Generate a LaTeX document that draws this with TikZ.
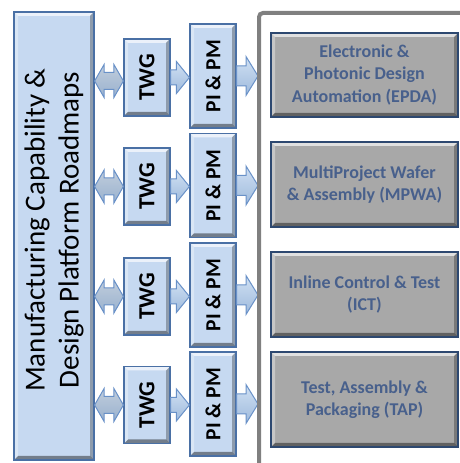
\documentclass[tikz,border=0pt]{standalone}
\usepackage{fontspec}
\setmainfont{Carlito}
\usetikzlibrary{calc}

\definecolor{boxblue}{RGB}{198,217,241}
\definecolor{edgeblue}{RGB}{74,112,165}
\definecolor{boxgray}{RGB}{168,168,168}
\definecolor{edgenavy}{RGB}{45,72,112}
\definecolor{labelblue}{RGB}{72,96,140}
\definecolor{arrowedge}{RGB}{105,145,200}
\definecolor{arrowtop}{RGB}{208,224,243}
\definecolor{arrowbot}{RGB}{158,186,220}
\definecolor{framegray}{RGB}{128,128,128}

% block arrow pointing right: style, from, to, shaft half-width, head half-width, head length
\newcommand\blockarrow[6]{%
  \path[#1] let \p1=(#2), \p2=(#3) in
    (\x1,\y1+#4) -- (\x2-#6,\y1+#4) -- (\x2-#6,\y1+#5) -- (\x2,\y1)
    -- (\x2-#6,\y1-#5) -- (\x2-#6,\y1-#4) -- (\x1,\y1-#4) -- cycle;}
% double-headed block arrow: style, from, to, shaft half-width, head half-width, head length
\newcommand\dblarrow[6]{%
  \path[#1] let \p1=(#2), \p2=(#3) in
    (\x1,\y1) -- (\x1+#6,\y1+#5) -- (\x1+#6,\y1+#4) -- (\x2-#6,\y1+#4)
    -- (\x2-#6,\y1+#5) -- (\x2,\y1) -- (\x2-#6,\y1-#5) -- (\x2-#6,\y1-#4)
    -- (\x1+#6,\y1-#4) -- (\x1+#6,\y1-#5) -- cycle;}

\tikzset{
  x=1pt, y=1pt,
  bevel/.style={path picture={
    \coordinate (bvSW) at (path picture bounding box.south west);
    \coordinate (bvNE) at (path picture bounding box.north east);
    \coordinate (bvNW) at (bvSW |- bvNE);
    \coordinate (bvSE) at (bvNE |- bvSW);
    \fill[white,opacity=.65] (bvNW) -- (bvNE) -- ([shift={(-#1,-#1)}]bvNE) -- ([shift={(#1,-#1)}]bvNW) -- cycle;
    \fill[white,opacity=.35] (bvNW) -- (bvSW) -- ([shift={(#1,#1)}]bvSW) -- ([shift={(#1,-#1)}]bvNW) -- cycle;
    \fill[black,opacity=.28] (bvNE) -- (bvSE) -- ([shift={(-#1,#1)}]bvSE) -- ([shift={(-#1,-#1)}]bvNE) -- cycle;
    \fill[black,opacity=.42] (bvSW) -- (bvSE) -- ([shift={(-#1,#1)}]bvSE) -- ([shift={(#1,#1)}]bvSW) -- cycle;
  }},
  bluebox/.style={rectangle, fill=boxblue, draw=edgeblue, line width=1.2pt, bevel=4,
    inner sep=0pt, text=black},
  twgbox/.style={bluebox, minimum width=46, minimum height=77,
    font=\bfseries\fontsize{23}{26}\selectfont},
  pibox/.style={bluebox, minimum width=46, minimum height=104,
    font=\bfseries\fontsize{21.5}{26}\selectfont},
  areabox/.style={rectangle, fill=boxgray, draw=edgenavy, line width=1.8pt, bevel=4,
    minimum width=187, inner sep=0pt, align=center, text=labelblue,
    font=\bfseries\fontsize{18}{22.5}\selectfont},
  blkarrow/.style={draw=arrowedge, line width=1pt, line join=miter,
    top color=arrowtop, bottom color=arrowbot},
  dblshade/.style={draw=arrowedge, line width=1pt, line join=miter,
    top color=arrowtop!80!gray, bottom color=arrowbot!85!gray},
  framebar/.style={draw=framegray, line width=4pt, rounded corners=4pt},
}

\begin{document}
\begin{tikzpicture}
\useasboundingbox (0,0) rectangle (459,463);
\fill[white] (0,0) rectangle (459,463);

% roadmap column
\node[bluebox, minimum width=80, minimum height=448] (road) at (54,227) {};
\node[rotate=90, align=center, font=\fontsize{29}{34}\selectfont] (roadtxt)
  at ($(road.center)+(0,6)$) {Manufacturing Capability \&\\Design Platform Roadmaps};

% technical working groups
\node[twgbox] (twg1) at (147,385.5) {\rotatebox{90}{TWG}};
\node[twgbox] (twg2) at (147,276.5) {\rotatebox{90}{TWG}};
\node[twgbox] (twg3) at (147,166.5) {\rotatebox{90}{TWG}};
\node[twgbox] (twg4) at (147,58)    {\rotatebox{90}{TWG}};

% PI & PM
\node[pibox] (pi1) at (213,387)   {\rotatebox{90}{PI \& PM}};
\node[pibox] (pi2) at (213,277.5) {\rotatebox{90}{PI \& PM}};
\node[pibox] (pi3) at (213,168)   {\rotatebox{90}{PI \& PM}};
\node[pibox] (pi4) at (213,59)    {\rotatebox{90}{PI \& PM}};

% focus areas
\node[areabox, minimum height=84] (epda) at (364.5,388)   {Electronic \&\\Photonic Design\\Automation (EPDA)};
\node[areabox, minimum height=85] (mpwa) at (364.5,278.5) {MultiProject Wafer\\\& Assembly (MPWA)};
\node[areabox, minimum height=85] (ict)  at (364.5,168.5) {Inline Control \& Test\\(ICT)};
\node[areabox, minimum height=95] (tap)  at (364.5,63.5)  {Test, Assembly \&\\Packaging (TAP)};

% frame around the focus areas
\coordinate (frm) at (258,0);
\coordinate (frmBot) at (259,-10);
\coordinate (frmTop) at (259,450);
\coordinate (frmEnd) at (475,450);

% roadmap <-> TWG
\dblarrow{dblshade}{$(road.east |- twg1.west)+(0,-3.5)$}{$(twg1.west)+(0,-3.5)$}{8.5}{16.5}{9.5}
\dblarrow{dblshade}{road.east |- twg2.west}{twg2.west}{8.5}{16.5}{9.5}
\dblarrow{dblshade}{road.east |- twg3.west}{twg3.west}{8.5}{16.5}{9.5}
\dblarrow{dblshade}{road.east |- twg4.west}{twg4.west}{8.5}{16.5}{9.5}

% TWG -> PI & PM
\blockarrow{blkarrow}{twg1.east}{pi1.west}{7.5}{16}{13}
\blockarrow{blkarrow}{twg2.east}{pi2.west}{7.5}{16}{13}
\blockarrow{blkarrow}{twg3.east}{pi3.west}{7.5}{16}{13}
\blockarrow{blkarrow}{twg4.east}{pi4.west}{7.5}{16}{13}

% PI & PM -> focus areas
\blockarrow{blkarrow}{pi1.east}{frm}{10}{19.5}{12}
\blockarrow{blkarrow}{pi2.east}{frm}{10}{19.5}{12}
\blockarrow{blkarrow}{pi3.east}{frm}{10}{19.5}{12}
\blockarrow{blkarrow}{pi4.east}{frm}{10}{19.5}{12}

\draw[framebar] (frmBot) -- (frmTop) -- (frmEnd);
\end{tikzpicture}
\end{document}
